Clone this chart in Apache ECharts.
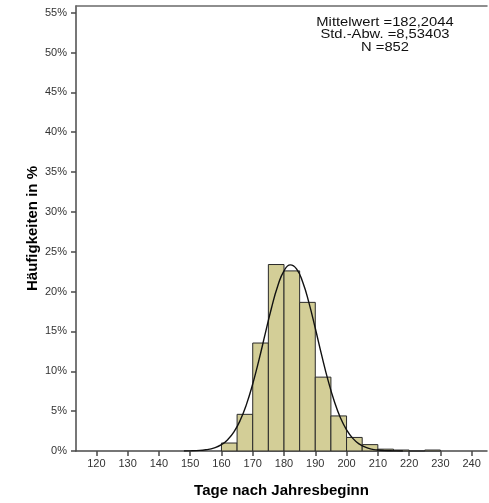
<!DOCTYPE html>
<html><head><meta charset="utf-8">
<script src="https://cdn.jsdelivr.net/npm/echarts@6/dist/echarts.min.js"></script>
<style>html,body{margin:0;padding:0;background:#fff}#c{width:489px;height:503px}</style>
</head><body><div id="c"></div>
<script>
// Histogram bins (start of 5-day bin) and percentages
const binStarts = [160, 165, 170, 175, 180, 185, 190, 195, 200, 205, 210, 215, 220, 225];
const binWidth = 5;
const binPercents = [1.0, 4.6, 13.55, 23.4, 22.6, 18.65, 9.27, 4.4, 1.7, 0.8, 0.23, 0.12, 0, 0.12];
// Fitted normal curve points
const curveX = [148, 150, 152, 155, 158, 160, 162, 164, 166, 168, 170, 172, 174, 176, 178, 180, 182, 184, 186, 188, 190, 192, 194, 196, 198, 200, 202, 204, 206, 208, 210, 212, 214, 216, 218];
const curveY = [0.005, 0.02, 0.05, 0.15, 0.42, 0.79, 1.42, 2.4, 3.85, 5.85, 8.41, 11.43, 14.72, 17.95, 20.7, 22.6, 23.36, 22.86, 21.17, 18.56, 15.4, 12.1, 8.99, 6.33, 4.21, 2.66, 1.58, 0.89, 0.48, 0.24, 0.12, 0.05, 0.023, 0.01, 0.004];
const xTicks = [120, 130, 140, 150, 160, 170, 180, 190, 200, 210, 220, 230, 240];
const yTicks = [0, 5, 10, 15, 20, 25, 30, 35, 40, 45, 50, 55];
const statsLines = ['Mittelwert =182,2044', 'Std.-Abw. =8,53403', 'N =852'];
const xName = 'Tage nach Jahresbeginn';
const yName = 'Häufigkeiten in %';

const chart = echarts.init(document.getElementById('c'), null, {renderer: 'canvas'});
const barData = binStarts.map((s, i) => [s, s + binWidth, binPercents[i]]);
const font = 'Arial, "Liberation Sans", sans-serif';

chart.setOption({
  animation: false,
  backgroundColor: '#fff',
  grid: {left: 76, right: 2, top: 6, bottom: 50.5, containLabel: false},
  xAxis: [{
    type: 'value', min: 113.5, max: 244.9,
    name: xName, nameLocation: 'middle', nameGap: 32, nameMoveOverlap: false,
    nameTextStyle: {fontFamily: font, fontWeight: 'bold', fontSize: 15, color: '#000'},
    axisLine: {show: true, onZero: false, lineStyle: {color: '#4a4a4a', width: 1.5}},
    axisTick: {show: true, customValues: xTicks, length: 5, lineStyle: {color: '#4a4a4a', width: 1.5}},
    axisLabel: {customValues: xTicks, margin: 7, fontFamily: font, fontSize: 11, color: '#333'},
    splitLine: {show: false}
  }, {
    type: 'value', position: 'top', min: 113.5, max: 244.9,
    axisLine: {show: true, onZero: false, lineStyle: {color: '#6a6a6a', width: 1.5}},
    axisTick: {show: false}, axisLabel: {show: false}, splitLine: {show: false}
  }],
  yAxis: {
    type: 'value', min: 0, max: 55.84,
    name: yName, nameLocation: 'middle', nameGap: 36, nameRotate: 90, nameMoveOverlap: false,
    nameTextStyle: {fontFamily: font, fontWeight: 'bold', fontSize: 15, color: '#000'},
    axisLine: {show: true, lineStyle: {color: '#4a4a4a', width: 1.5}},
    axisTick: {show: true, customValues: yTicks, length: 5, lineStyle: {color: '#4a4a4a', width: 1.5}},
    axisLabel: {customValues: yTicks, margin: 9, fontFamily: font, fontSize: 11, color: '#333', formatter: v => v + '%'},
    splitLine: {show: false}
  },
  series: [{
    type: 'custom',
    data: barData,
    encode: {x: [0, 1], y: 2},
    z: 2,
    renderItem: function (params, api) {
      const p0 = api.coord([api.value(0), 0]);
      const p1 = api.coord([api.value(1), api.value(2)]);
      return {
        type: 'rect',
        shape: {x: p0[0], y: p1[1], width: p1[0] - p0[0], height: p0[1] - p1[1]},
        style: {fill: '#d3ce97', stroke: '#2a2a2a', lineWidth: 1}
      };
    }
  }, {
    type: 'line',
    data: curveX.map((x, i) => [x, curveY[i]]),
    smooth: true,
    showSymbol: false,
    z: 5,
    lineStyle: {color: '#111', width: 1.4}
  }],
  graphic: [{
    type: 'text', x: 385, y: 16, scaleX: 1.18, originX: 0, originY: 0,
    style: {text: statsLines.join('\n'), x: 0, y: 0, textAlign: 'center', fontFamily: font, fontSize: 12.5, lineHeight: 12.5, fill: '#111'}
  }]
});
</script>
</body></html>
